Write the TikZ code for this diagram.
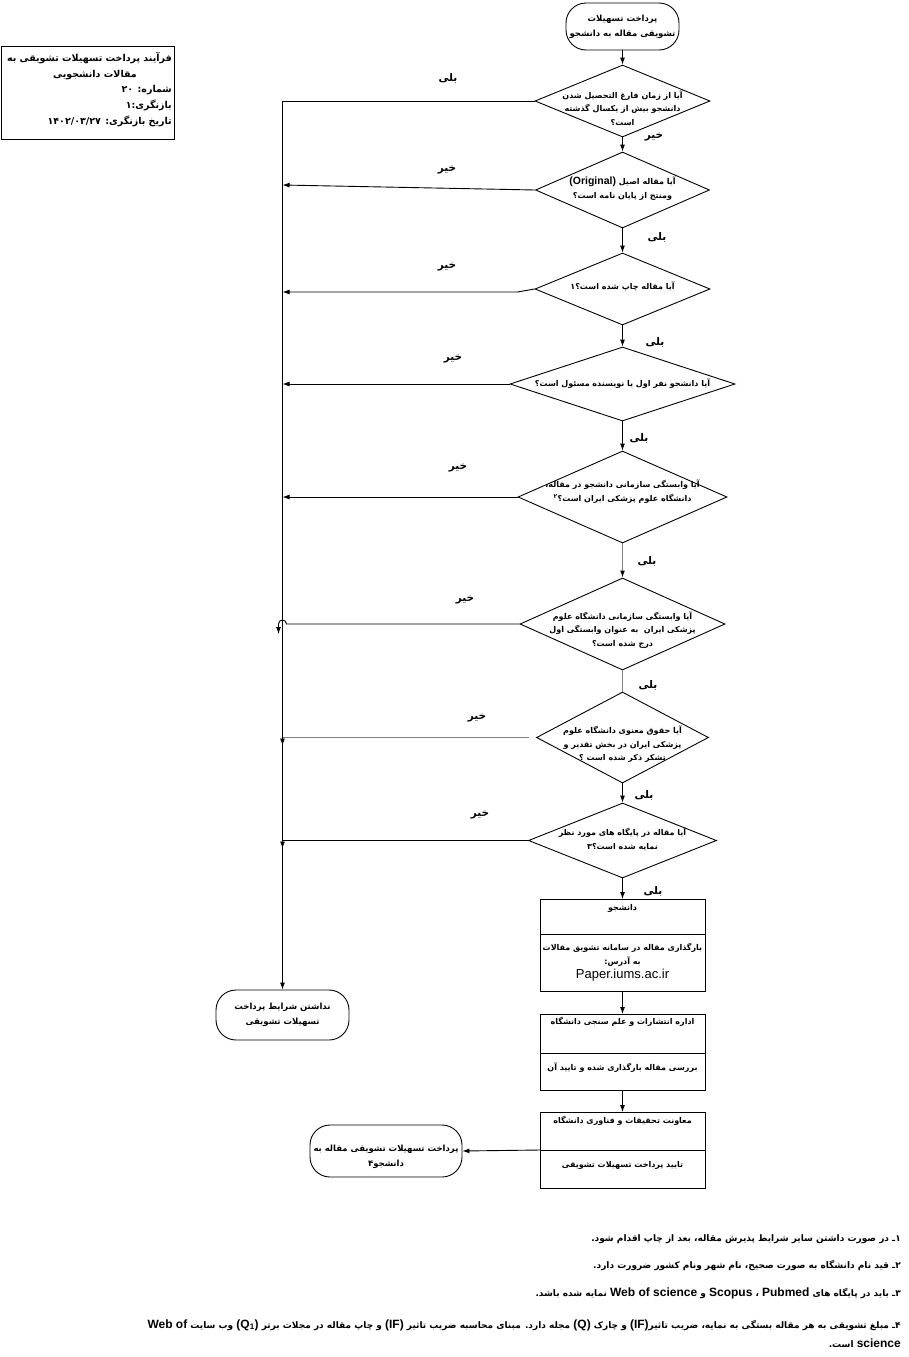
\documentclass[tikz,border=0pt]{standalone}
\usepackage{fontspec}
\usetikzlibrary{arrows.meta, shapes.geometric, positioning}
\TeXXeTstate=1
\newfontfamily\arabicfont[Script=Arabic]{DejaVu Sans}
\newfontfamily\latinfont{Liberation Sans}
\definecolor{lineGrey}{RGB}{128,128,128}
\tikzset{
    decBox/.style={diamond, draw, line width=0.9pt, inner sep=0pt},
    decText/.style={font=\fontsize{8}{13.5}\selectfont, align=center, inner sep=0pt},
    termBox/.style={draw, rectangle, rounded corners=20pt, line width=0.9pt, inner sep=0pt},
    termText/.style={font=\fontsize{8.5}{15}\selectfont, align=center, inner sep=0pt},
    procBox/.style={draw, rectangle, line width=0.9pt, minimum width=165pt, inner sep=0pt, outer sep=0pt},
    procText/.style={font=\fontsize{8}{14}\selectfont, align=center, inner sep=0pt},
    infoBox/.style={draw, rectangle, line width=0.9pt, inner sep=0pt},
    infoText/.style={anchor=north east, align=right, font=\fontsize{9.5}{15.75}\selectfont, inner sep=0pt},
    yesNo/.style={font=\fontsize{10.5}{12}\selectfont, inner sep=0pt},
    footText/.style={anchor=east, font=\fontsize{9}{12}\selectfont, inner sep=0pt},
    flowLine/.style={line width=0.9pt},
    flowEdge/.style={flowLine, -{Latex[length=7pt, width=5pt]}},
    greyLine/.style={line width=1.2pt, draw=lineGrey},
    greyEdge/.style={greyLine, -{Latex[length=7pt, width=5pt, color=black]}},
}
\newcommand{\fa}[1]{{\arabicfont\bfseries\beginR #1\endR}}
\newcommand{\en}[1]{\beginL{\latinfont\bfseries\fontsize{12}{14}\selectfont #1}\endL}
\newcommand{\decision}[6][0pt]{
    \node[decBox, minimum width=#4, minimum height=#5] (#2) at #3 {};
    \node[decText] (#2t) at ([yshift=#1]#2.center) {#6};
}

\begin{document}
\begin{tikzpicture}[x=1pt, y=-1pt]
    \useasboundingbox (0,0) rectangle (909,1357);

    % header
    \node[infoBox, minimum width=173pt, minimum height=93pt] (info) at (88,92.5) {};
    \node[infoText] (infoT) at (172,52) {\fa{فرآیند پرداخت تسهیلات تشویقی به}\\
        \fa{مقالات دانشجویی}\kern35pt\\
        \fa{شماره:  ۲۰}\\
        \fa{بازنگری:۱}\\
        \fa{تاریخ بازنگری: \beginL ۱۴۰۲/۰۳/۲۷\endL}};

    % main column
    \node[termBox, minimum width=113pt, minimum height=47pt] (start) at (622.5,26.5) {};
    \node[termText] (startT) at (start) {\fa{پرداخت تسهیلات}\\\fa{تشویقی مقاله به دانشجو}};

    \decision[-7pt]{D1}{(622.5,101)}{175pt}{72pt}{\fa{آیا از زمان فارغ التحصیل شدن}\\\fa{دانشجو بیش از یکسال گذشته}\\\fa{است؟}}
    \decision[1.5pt]{D2}{(622.5,190)}{174pt}{76pt}{\fa{آیا مقاله اصیل \beginL{\latinfont\fontsize{10.5}{12}\selectfont (Original)}\endL}\\\fa{ومنتج از پایان نامه است؟}}
    \decision[2pt]{D3}{(622.5,289)}{175pt}{72pt}{\fa{آیا مقاله چاپ شده است؟۱}}
    \decision{D4}{(622.5,384)}{225pt}{74pt}{\fa{آیا دانشجو نفر اول یا نویسنده مسئول است؟}}
    \decision[5.5pt]{D5}{(622.5,497)}{209pt}{92pt}{\fa{آیا وابستگی سازمانی دانشجو در مقاله،}\\\fa{دانشگاه علوم پزشکی ایران است؟\textsuperscript{۲}}}
    \decision[-6pt]{D6}{(622.5,624)}{205pt}{92pt}{\fa{آیا وابستگی سازمانی دانشگاه علوم}\\\fa{پزشکی ایران\ \ به عنوان وابستگی اول}\\\fa{درج شده است؟}}
    \decision[-7pt]{D7}{(622.5,737.5)}{172pt}{91pt}{\fa{آیا حقوق معنوی دانشگاه علوم}\\\fa{پزشکی ایران در بخش تقدیر و}\\\fa{تشکر ذکر شده است ؟}}
    \decision[1pt]{D8}{(622.5,840.5)}{188pt}{75pt}{\fa{آیا مقاله در پایگاه های مورد نظر}\\\fa{نمایه شده است؟۳}}

    % process boxes
    \node[procBox, minimum height=35pt] (B1h) at (622.5,916.5) {};
    \node[procBox, minimum height=57pt, below=0pt of B1h] (B1b) {};
    \node[procText] (B1ht) at ([yshift=-9pt]B1h.north) {\fa{دانشجو}};
    \node[procText] (B1bt) at (B1b.center) {\fa{بارگذاری مقاله در سامانه تشویق مقالات}\\\fa{به آدرس:}\\{\latinfont\fontsize{13}{14}\selectfont Paper.iums.ac.ir}};

    \node[procBox, minimum height=39pt] (B2h) at (622.5,1033.5) {};
    \node[procBox, minimum height=37pt, below=0pt of B2h] (B2b) {};
    \node[procText] (B2ht) at ([yshift=-8pt]B2h.north) {\fa{اداره انتشارات و علم سنجی دانشگاه}};
    \node[procText] (B2bt) at ([yshift=3.5pt]B2b.center) {\fa{بررسی مقاله بارگذاری شده و تایید آن}};

    \node[procBox, minimum height=38pt] (B3h) at (622.5,1131) {};
    \node[procBox, minimum height=38pt, below=0pt of B3h] (B3b) {};
    \node[procText] (B3ht) at ([yshift=-9pt]B3h.north) {\fa{معاونت تحقیقات و فناوری دانشگاه}};
    \node[procText] (B3bt) at ([yshift=4pt]B3b.center) {\fa{تایید پرداخت تسهیلات تشویقی}};

    % end terminals
    \node[termBox, minimum width=133pt, minimum height=50pt] (noPay) at (282.5,1015) {};
    \node[termText] (noPayT) at (noPay) {\fa{نداشتن شرایط پرداخت}\\\fa{تسهیلات تشویقی}};
    \node[termBox, minimum width=152pt, minimum height=52pt] (pay) at (386,1151) {};
    \node[termText] (payT) at ([yshift=-6pt]pay.center) {\fa{پرداخت تسهیلات تشویقی مقاله به}\\\fa{دانشجو۴}};

    % column connectors
    \draw[flowEdge] (start) -- (D1);
    \draw[flowEdge] (D1) -- (D2);
    \draw[flowEdge] (D2) -- (D3);
    \draw[flowEdge] (D3) -- (D4);
    \draw[flowEdge] (D4) -- (D5);
    \draw[greyEdge] (D5) -- (D6);
    \draw[greyLine] (D6) -- (D7);
    \draw[flowEdge] (D7) -- (D8);
    \draw[flowEdge] (D8) -- (B1h);
    \draw[flowEdge] (B1b) -- (B2h);
    \draw[flowEdge] (B2b) -- (B3h);
    \draw[flowEdge] (B3h.south west) -- (pay.east);

    % left branch
    \coordinate (vl) at (282.5,0);
    \draw[flowEdge] (D1.west) -| (noPay.north);
    \draw[flowEdge] (D2.west) -- ([yshift=5pt]D2.west -| vl);
    \draw[flowEdge] (D3.west) -- ++(-17,3) coordinate (D3k) -- (D3k -| vl);
    \draw[flowEdge] (D4.west) -- (D4.west -| vl);
    \draw[flowEdge] (D5.west) -- (D5.west -| vl);
    \draw[flowLine] (D6.west) -- ([xshift=4pt]D6.west -| vl) arc[start angle=0, end angle=180, radius=4pt] coordinate (D6k);
    \draw[flowEdge] (D6k) -- ++(0,10);
    \draw[greyLine] ([xshift=-7pt]D7.west) -- (D7.west -| vl);
    \draw[flowEdge] (D7.west -| vl) -- ++(0,8);
    \draw[flowLine] (D8.west) -- (D8.west -| vl);
    \draw[flowEdge] (D8.west -| vl) -- ++(0,8);

    % yes / no labels
    \node[yesNo] (l1) at (448,78) {\fa{بلی}};
    \node[yesNo] (l2) at (447,170) {\fa{خیر}};
    \node[yesNo] (l3) at (447,267) {\fa{خیر}};
    \node[yesNo] (l4) at (453,359) {\fa{خیر}};
    \node[yesNo] (l5) at (458,468) {\fa{خیر}};
    \node[yesNo] (l6) at (465,600) {\fa{خیر}};
    \node[yesNo] (l7) at (477,718) {\fa{خیر}};
    \node[yesNo] (l8) at (480,815) {\fa{خیر}};
    \node[yesNo] (m1) at (654,137) {\fa{خیر}};
    \node[yesNo] (m2) at (657,237) {\fa{بلی}};
    \node[yesNo] (m3) at (655,342) {\fa{بلی}};
    \node[yesNo] (m4) at (639,438) {\fa{بلی}};
    \node[yesNo] (m5) at (647,561) {\fa{بلی}};
    \node[yesNo] (m6) at (648,685) {\fa{بلی}};
    \node[yesNo] (m7) at (644,795) {\fa{بلی}};
    \node[yesNo] (m8) at (653,891) {\fa{بلی}};

    % footnotes
    \node[footText] (fn1) at (901,1239) {\fa{۱ـ در صورت داشتن سایر شرایط پذیرش مقاله، بعد از چاپ اقدام شود.}};
    \node[footText] (fn2) at (901,1265) {\fa{۲ـ قید نام دانشگاه به صورت صحیح، نام شهر ونام کشور ضرورت دارد.}};
    \node[footText] (fn3) at (901,1293) {\fa{۳ـ باید در پایگاه های \en{Pubmed} ، \en{Scopus} و \en{Web of science} نمایه شده باشد.}};
    \node[footText] (fn4) at (901,1325) {\fa{۴ـ مبلغ تشویقی به هر مقاله بستگی به نمایه، ضریب تاثیر\en{(IF)} و چارک \en{(Q)} مجله دارد. مبنای محاسبه ضریب تاثیر \en{(IF)} و چاپ مقاله در مجلات برتر \en{(Q\textsubscript{1})} وب سایت \en{Web of}}};
    \node[footText] (fn4b) at (901,1343) {\fa{\en{science} است.}};

\end{tikzpicture}
\end{document}
